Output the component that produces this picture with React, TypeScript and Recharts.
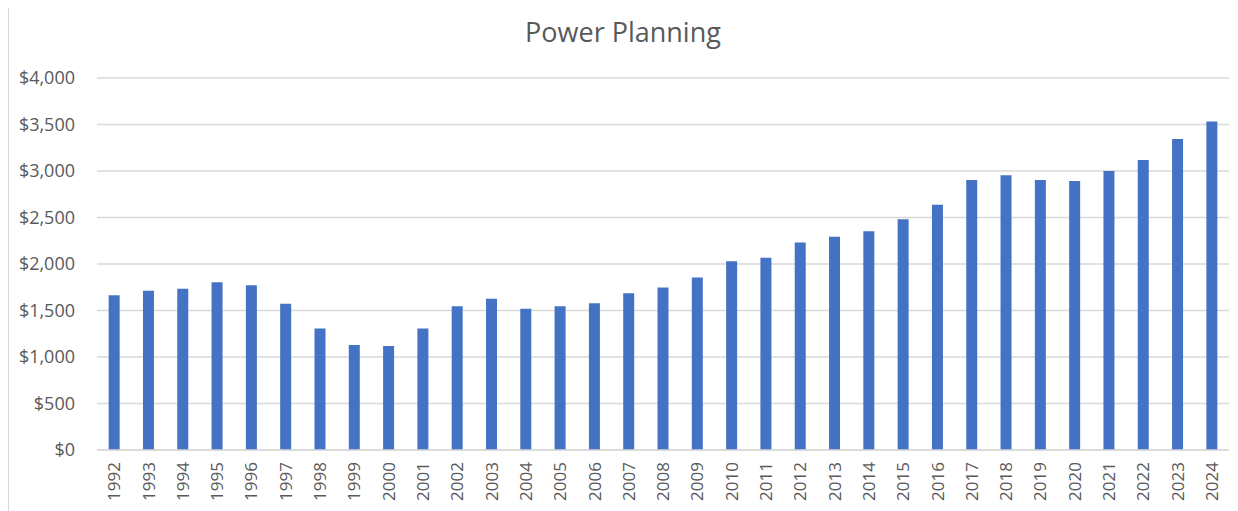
import { Bar, BarChart, CartesianGrid, XAxis, YAxis } from 'recharts'

const years = [
  '1992', '1993', '1994', '1995', '1996', '1997', '1998', '1999', '2000', '2001', '2002',
  '2003', '2004', '2005', '2006', '2007', '2008', '2009', '2010', '2011', '2012', '2013',
  '2014', '2015', '2016', '2017', '2018', '2019', '2020', '2021', '2022', '2023', '2024',
]
const cost = [
  1665, 1712, 1733, 1805, 1772, 1572, 1307, 1128, 1117, 1307, 1547,
  1626, 1519, 1547, 1579, 1686, 1748, 1855, 2030, 2066, 2231, 2292,
  2352, 2481, 2636, 2904, 2954, 2904, 2893, 3001, 3119, 3345, 3531,
]
const yTicks = [0, 500, 1000, 1500, 2000, 2500, 3000, 3500, 4000]

const font = '"Open Sans", sans-serif'
const textColor = '#595959'

const data = years.map((year, i) => ({ year, cost: cost[i] }))

const YearTick = (props: any) => {
  const { x, y, payload } = props
  return (
    <g transform={`translate(${x},${y})`}>
      <text
        transform='rotate(-90)'
        x={-4}
        dy='0.36em'
        textAnchor='end'
        fill={textColor}
        fontSize={17}
        fontFamily={font}
      >
        {payload.value}
      </text>
    </g>
  )
}

const App = () => {
  return (
    <div
      style={{
        width: 1228,
        height: 505,
        marginTop: -3,
        border: '1px solid #d9d9d9',
        background: '#fff',
        position: 'relative',
      }}
    >
      <div
        style={{
          position: 'absolute',
          top: 7,
          left: 0,
          width: '100%',
          textAlign: 'center',
          fontFamily: font,
          fontSize: 27,
          color: textColor,
        }}
      >
        Power Planning
      </div>
      <BarChart
        width={1228}
        height={505}
        data={data}
        margin={{ top: 72, right: 8, left: 0, bottom: 4 }}
        barCategoryGap='34%'
      >
        <CartesianGrid vertical={false} stroke='#d9d9d9' strokeWidth={1.3} />
        <XAxis
          dataKey='year'
          interval={0}
          tickLine={false}
          axisLine={{ stroke: '#d9d9d9', strokeWidth: 1.3 }}
          height={57}
          tick={<YearTick />}
        />
        <YAxis
          width={88}
          domain={[0, 4000]}
          ticks={yTicks}
          tickLine={false}
          axisLine={false}
          tickMargin={16}
          tickFormatter={(v: number) => `$${v.toLocaleString('en-US')}`}
          tick={{ fill: textColor, fontSize: 18, fontFamily: font }}
        />
        <Bar dataKey='cost' fill='#4472c4' isAnimationActive={false} />
      </BarChart>
    </div>
  )
}

export default App
